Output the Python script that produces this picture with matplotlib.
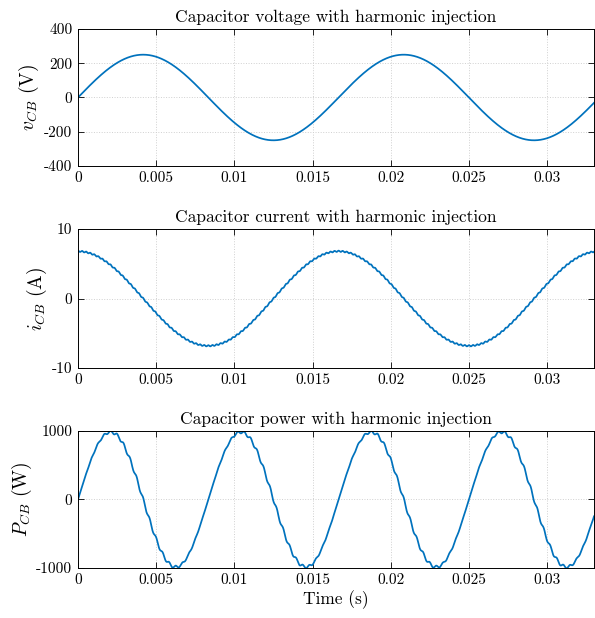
import numpy as np
import matplotlib
matplotlib.use("Agg")
import matplotlib.pyplot as plt

plt.rcParams['font.family'] = 'serif'
plt.rcParams['font.serif'] = ['cmr10']
plt.rcParams['mathtext.fontset'] = 'cm'
plt.rcParams['axes.unicode_minus'] = False
plt.rcParams['axes.formatter.use_mathtext'] = True

# waveform data, given as harmonic components of 60 Hz
f0 = 60.0
t_end = 0.033
# capacitor voltage: order, amplitude (V), phase (rad, sine reference)
v_orders = [1]
v_amps = [250.0]
v_phases = [0.0]
# capacitor current: fundamental plus small switching ripple
i_orders = [1, 64]
i_amps = [6.8, 0.09]
i_phases = [np.pi / 2, np.pi / 2]
# capacitor power: double frequency plus ripple sidebands
p_orders = [2, 41, 39]
p_amps = [985.0, 14.0, -14.0]
p_phases = [0.0, 0.0, 0.0]

xticks = [0, 0.005, 0.01, 0.015, 0.02, 0.025, 0.03]
xticklabels = ['0', '0.005', '0.01', '0.015', '0.02', '0.025', '0.03']

titles = ['Capacitor voltage with harmonic injection',
          'Capacitor current with harmonic injection',
          'Capacitor power with harmonic injection']
ylabels = [r'$v_{CB}$ (V)', r'$i_{CB}$ (A)', r'$P_{CB}$ (W)']
yticks = [[-400, -200, 0, 200, 400], [-10, 0, 10], [-1000, 0, 1000]]
ylims = [(-400, 400), (-10, 10), (-1000, 1000)]

t = np.linspace(0, t_end, 6000)

def build(orders, amps, phases):
    y = np.zeros_like(t)
    for n, a, ph in zip(orders, amps, phases):
        y += a * np.sin(2 * np.pi * n * f0 * t + ph)
    return y

signals = [build(v_orders, v_amps, v_phases),
           build(i_orders, i_amps, i_phases),
           build(p_orders, p_amps, p_phases)]

fig = plt.figure(figsize=(5.95, 6.18), dpi=100)
positions = [[0.1311, 0.7314, 0.8672, 0.2217],
             [0.1311, 0.4045, 0.8672, 0.2249],
             [0.1311, 0.0809, 0.8672, 0.2217]]

for k in range(3):
    ax = fig.add_axes(positions[k])
    ax.plot(t, signals[k], color='#0072BD', linewidth=1.25)
    ax.set_xlim(0, t_end)
    ax.set_ylim(*ylims[k])
    ax.set_xticks(xticks)
    ax.set_xticklabels(xticklabels)
    ax.set_yticks(yticks[k])
    ax.set_yticklabels([str(v) for v in yticks[k]])
    ax.grid(True, linestyle=':', color='#d0d0d0', linewidth=0.7)
    ax.tick_params(direction='in', top=True, right=True, length=4,
                   width=0.6, labelsize=11, pad=4)
    for s in ax.spines.values():
        s.set_linewidth(0.7)
    ax.set_title(titles[k], fontsize=12.5, pad=5)
    ax.set_ylabel(ylabels[k], fontsize=14, labelpad=2)
    if k == 2:
        ax.set_xlabel('Time (s)', fontsize=12.5, labelpad=2)

fig.savefig('out.png', dpi=100)
